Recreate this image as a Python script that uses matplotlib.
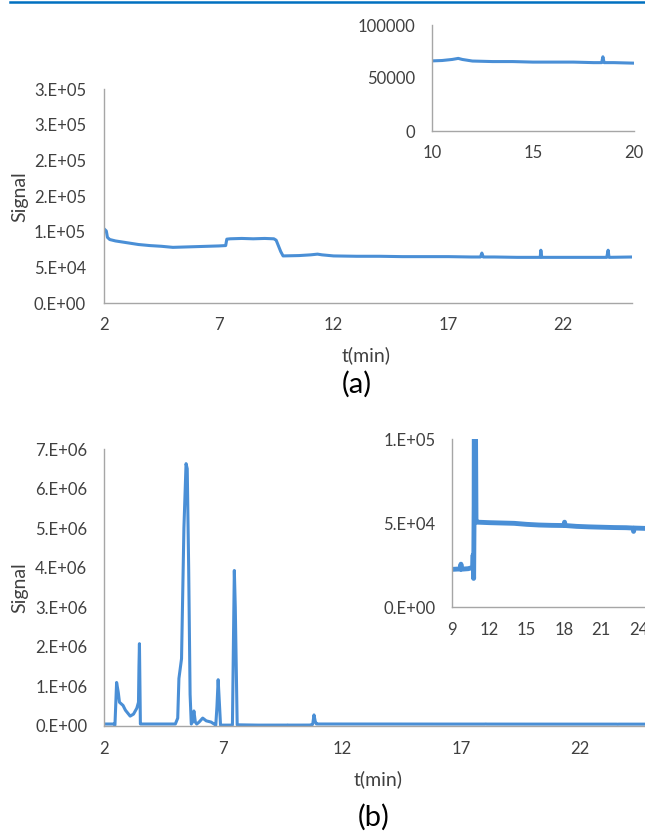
import matplotlib.pyplot as plt
from matplotlib.lines import Line2D

plt.rcParams['font.family'] = ['Lato', 'DejaVu Sans']

# panel (a): baseline signal, t in min
t_a = [2.0, 2.1, 2.15, 2.25, 2.5, 3.0, 3.5, 4.0, 4.5, 5.0, 5.5, 6.0, 6.5, 7.0, 7.3,
       7.35, 7.5, 8.0, 8.5, 9.0, 9.4, 9.5, 9.7, 9.8, 10.5, 11.0, 11.3, 11.5, 12, 13,
       14, 15, 16, 17, 18, 18.4, 18.46, 18.52, 19, 20, 21.0, 21.03, 21.07, 22, 23,
       23.9, 23.96, 24.0, 25]
sig_a = [104000, 101000, 92000, 89000, 87000, 84500, 82000, 80500, 79500, 78000,
         78500, 79000, 79500, 80000, 80500, 89500, 90000, 90500, 90000, 90500, 90000,
         88000, 72000, 66000, 66500, 67500, 68500, 67500, 66000, 65500, 65500, 65000,
         65000, 65000, 64500, 64500, 70000, 64500, 64500, 64000, 64000, 74000, 64000,
         64000, 64000, 64000, 74000, 64000, 64500]

# panel (b): sample chromatogram
t_b = [2.0, 2.4, 2.46, 2.53, 2.6, 2.65, 2.8, 2.9, 3.1, 3.24, 3.38, 3.45, 3.47, 3.49,
       3.53, 3.6, 5.0, 5.1, 5.15, 5.26, 5.36, 5.45, 5.5, 5.56, 5.62, 5.67, 5.72, 5.78,
       5.84, 5.9, 6.0, 6.15, 6.3, 6.5, 6.63, 6.7, 6.75, 6.8, 6.85, 6.9, 7.4, 7.45,
       7.48, 7.52, 7.6, 8.5, 9.0, 9.5, 9.68, 9.72, 9.76, 10.3, 10.66, 10.7, 10.74,
       10.78, 10.83, 10.88, 10.93, 11.0, 12, 13, 14, 15, 16, 17, 18, 18.05, 18.1, 19,
       20, 21, 22, 23, 23.55, 23.6, 23.65, 24.5, 25]
sig_b = [50000, 50000, 20000, 1100000, 850000, 600000, 520000, 400000, 250000,
         300000, 450000, 600000, 1500000, 2080000, 50000, 50000, 50000, 200000,
         1200000, 1700000, 5000000, 6630000, 6500000, 4000000, 800000, 50000, 100000,
         380000, 100000, 50000, 100000, 200000, 130000, 100000, 50000, 20000, 500000,
         1170000, 600000, 22000, 22000, 2500000, 3930000, 3000000, 30000, 22000,
         22400, 22600, 22500, 25500, 22500, 22800, 23500, 31000, 17000, 60000, 280000,
         120000, 52000, 50500, 50200, 50000, 49800, 49200, 48800, 48600, 48500, 50500,
         48500, 48000, 47700, 47500, 47300, 47200, 47000, 45000, 47000, 46800, 46600]

yt_a = [0, 50000, 100000, 150000, 200000, 250000, 300000]
yl_a = ['0.E+00', '5.E+04', '1.E+05', '2.E+05', '2.E+05', '3.E+05', '3.E+05']
xt_main = [2, 7, 12, 17, 22]
yt_b = [0, 1e6, 2e6, 3e6, 4e6, 5e6, 6e6, 7e6]
yl_b = ['0.E+00', '1.E+06', '2.E+06', '3.E+06', '4.E+06', '5.E+06', '6.E+06', '7.E+06']
yt_ia = [0, 50000, 100000]
yl_ia = ['0', '50000', '100000']
xt_ia = [10, 15, 20]
yt_ib = [0, 50000, 100000]
yl_ib = ['0.E+00', '5.E+04', '1.E+05']
xt_ib = [9, 12, 15, 18, 21, 24]

LINE = '#4a8fd6'
AX = '#a6a6a6'
TXT = '#404040'
W, H = 645, 831
TICK = 12
LAB = 14


def box(x0, y0, x1, y1):
    # pixel box (top-left origin) -> figure fraction rect
    return [x0 / W, 1 - y1 / H, (x1 - x0) / W, (y1 - y0) / H]


def style(ax, xpad, ypad):
    for s in ['top', 'right']:
        ax.spines[s].set_visible(False)
    for s in ['left', 'bottom']:
        ax.spines[s].set_color(AX)
        ax.spines[s].set_linewidth(1.0)
    ax.tick_params(axis='x', length=0, pad=xpad, labelsize=TICK, labelcolor=TXT)
    ax.tick_params(axis='y', length=0, pad=ypad, labelsize=TICK, labelcolor=TXT)
    ax.set_facecolor('white')


fig = plt.figure(figsize=(6.45, 8.31), dpi=100)
fig.add_artist(Line2D([10 / W, 1], [1 - 2 / H, 1 - 2 / H], color='#0070c0', lw=1.8))

# (a) main
ax1 = fig.add_axes(box(104, 89, 632, 303))
ax1.plot(t_a, sig_a, color=LINE, lw=2.2)
ax1.set_xlim(2, 25)
ax1.set_ylim(0, 300000)
ax1.set_xticks(xt_main)
ax1.set_yticks(yt_a, yl_a)
style(ax1, 10, 13)

# (a) inset
ax2 = fig.add_axes(box(432, 25, 634, 131))
ax2.plot(t_a, sig_a, color=LINE, lw=2.2)
ax2.set_xlim(10, 20)
ax2.set_ylim(0, 100000)
ax2.set_xticks(xt_ia)
ax2.set_yticks(yt_ia, yl_ia)
style(ax2, 10, 12)

fig.text(20 / W, 1 - 197 / H, 'Signal', rotation=90, ha='center', va='center', fontsize=LAB, color=TXT)
fig.text(366 / W, 1 - 355 / H, 't(min)', ha='center', va='center', fontsize=LAB, color=TXT)
fig.text(357 / W, 1 - 384 / H, '(a)', ha='center', va='center', fontsize=21, color='black')

# (b) main
ax3 = fig.add_axes(box(104, 449, 651, 726))
ax3.plot(t_b, sig_b, color=LINE, lw=2.2)
ax3.set_xlim(2, 25)
ax3.set_ylim(0, 7e6)
ax3.set_xticks(xt_main)
ax3.set_yticks(yt_b, yl_b)
style(ax3, 11, 12)

# (b) inset
ax4 = fig.add_axes(box(452, 439, 651, 607))
ax4.plot(t_b, sig_b, color=LINE, lw=3.5)
ax4.set_xlim(9, 25)
ax4.set_ylim(0, 100000)
ax4.set_xticks(xt_ib)
ax4.set_yticks(yt_ib, yl_ib)
style(ax4, 11, 12)

fig.text(20 / W, 1 - 588 / H, 'Signal', rotation=90, ha='center', va='center', fontsize=LAB, color=TXT)
fig.text(378 / W, 1 - 779 / H, 't(min)', ha='center', va='center', fontsize=LAB, color=TXT)
fig.text(374 / W, 1 - 817 / H, '(b)', ha='center', va='center', fontsize=21, color='black')

fig.savefig('out.png', dpi=100)
